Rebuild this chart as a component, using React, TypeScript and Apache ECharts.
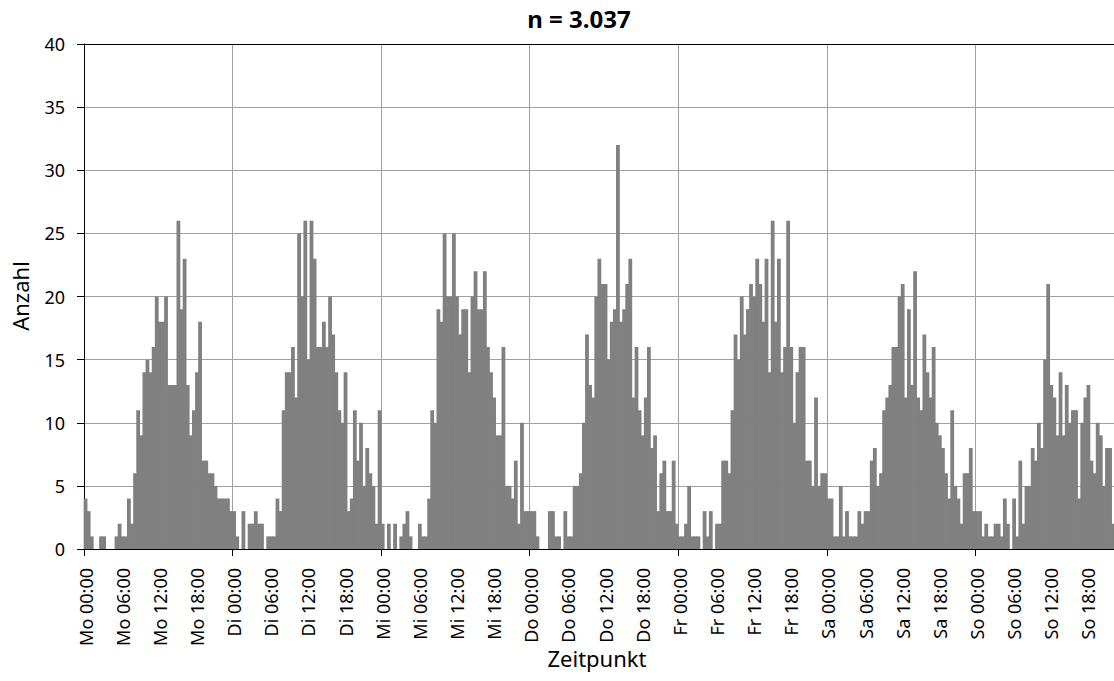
import React, { useEffect, useRef } from "react";
import * as echarts from "echarts";

const dayNames = ["Mo", "Di", "Mi", "Do", "Fr", "Sa", "So"];

const mo = [4,3,1,0,0,1,1,0,0,0,1,2,1,1,4,2,6,11,9,14,15,14,16,20,18,18,20,13,13,13,26,19,23,13,9,11,14,18,7,7,6,6,5,4,4,4,4,3];
const di = [3,1,0,3,0,2,2,3,2,2,0,1,1,1,4,3,11,14,14,16,12,25,20,26,15,26,23,16,16,18,16,20,17,14,11,10,14,3,4,11,7,10,5,8,6,5,2,11];
const mi = [2,0,2,0,2,0,1,2,3,1,0,0,2,1,1,4,11,10,19,18,25,20,20,25,20,17,19,19,14,20,22,19,19,22,16,14,12,9,9,16,5,5,4,7,2,10,3,3];
const donnerstag = [3,3,1,0,0,0,3,3,1,1,0,3,1,1,5,5,6,10,17,13,12,20,23,21,21,15,18,19,32,18,19,21,23,12,16,11,9,12,16,8,9,3,6,7,3,3,7,2];
const fr = [1,1,2,5,1,1,1,0,3,1,3,0,2,2,7,7,6,11,17,15,20,17,19,21,20,23,21,18,23,14,26,18,23,14,16,26,16,10,14,16,16,7,7,5,12,5,6,6];
const sa = [4,4,1,1,5,1,3,1,1,1,3,2,3,3,7,8,5,6,11,12,13,16,16,20,21,12,19,13,22,12,11,17,14,12,16,10,9,8,6,4,11,5,4,2,6,6,8,3];
// Sunday: only the visible part of the (cropped) chart
const so = [3,3,1,2,1,1,2,2,1,4,2,0,4,1,7,2,5,5,8,7,10,8,15,21,13,12,9,14,9,13,10,11,11,4,10,12,13,7,6,10,9,5,8,8,2];

const titleText = "n = 3.037";
const xName = "Zeitpunkt";
const yName = "Anzahl";

const categories: string[] = [];
for (const d of dayNames) {
  for (let b = 0; b < 48; b++) {
    const h = Math.floor(b / 2);
    const m = b % 2 === 0 ? "00" : "30";
    categories.push(`${d} ${String(h).padStart(2, "0")}:${m}`);
  }
}
const values = [...mo, ...di, ...mi, ...donnerstag, ...fr, ...sa, ...so];
const seriesData = values.map((v, i) => [i, v]);

const FONT = "Noto Sans";
const BAR_COLOR = "#808080";

export default function App() {
  const ref = useRef<HTMLDivElement>(null);
  useEffect(() => {
    if (!ref.current) return;
    const chart = echarts.init(ref.current, null, { renderer: "svg" });
    chart.setOption({
      animation: false,
      backgroundColor: "#ffffff",
      textStyle: { fontFamily: FONT },
      grid: { left: 84, right: 10, top: 44, bottom: 132, containLabel: false },
      xAxis: [
        {
          type: "category",
          data: categories,
          boundaryGap: true,
          axisLine: { show: true, lineStyle: { color: "#000", width: 1 } },
          axisTick: { show: true, interval: 47, length: 7, inside: false, lineStyle: { color: "#000" } },
          axisLabel: {
            interval: 11,
            rotate: 90,
            margin: 19,
            fontSize: 18,
            color: "#000",
            fontFamily: FONT,
          },
          splitLine: { show: true, interval: 47, lineStyle: { color: "#a0a0a0", width: 1 } },
        },
        {
          type: "category",
          data: categories,
          position: "top",
          axisLine: { show: true, lineStyle: { color: "#000", width: 1 } },
          axisTick: { show: false },
          axisLabel: { show: false },
          splitLine: { show: false },
        },
      ],
      yAxis: {
        type: "value",
        min: 0,
        max: 40,
        interval: 5,
        axisLine: { show: true, lineStyle: { color: "#000", width: 1 } },
        axisTick: { show: true, length: 7, inside: false, lineStyle: { color: "#000" } },
        axisLabel: { margin: 19, fontSize: 18, color: "#000", fontFamily: FONT },
        splitLine: { show: true, lineStyle: { color: "#a0a0a0", width: 1 } },
      },
      series: [
        {
          type: "custom",
          xAxisIndex: 0,
          data: seriesData,
          encode: { x: 0, y: 1 },
          renderItem: (params: any, api: any) => {
            const v = api.value(1);
            if (!v) return null;
            const idx = api.value(0);
            const top = api.coord([idx, v]);
            const base = api.coord([idx, 0]);
            const w = api.size([1, 0])[0];
            return {
              type: "rect",
              shape: {
                x: top[0] - w / 2 - 0.35,
                y: top[1],
                width: w + 0.7,
                height: base[1] - top[1],
              },
              style: { fill: BAR_COLOR },
            };
          },
          emphasis: { disabled: true },
        },
      ],
      graphic: [
        {
          type: "text",
          x: 579,
          y: 18,
          style: {
            text: titleText,
            fontSize: 24,
            fontWeight: "bold",
            fontFamily: FONT,
            fill: "#000",
            align: "center",
            verticalAlign: "middle",
          },
        },
        {
          type: "text",
          x: 597,
          y: 658,
          style: {
            text: xName,
            fontSize: 22,
            fontFamily: FONT,
            fill: "#000",
            align: "center",
            verticalAlign: "middle",
          },
        },
        {
          type: "text",
          x: 20,
          y: 296,
          rotation: Math.PI / 2,
          style: {
            text: yName,
            fontSize: 22,
            fontFamily: FONT,
            fill: "#000",
            align: "center",
            verticalAlign: "middle",
          },
        },
      ],
    });
    return () => chart.dispose();
  }, []);
  return (
    <div
      style={{ position: "fixed", left: 0, top: 0, width: 1114, height: 681, overflow: "hidden", background: "#fff" }}
    >
      <div ref={ref} style={{ width: 1134, height: 681 }} />
    </div>
  );
}
